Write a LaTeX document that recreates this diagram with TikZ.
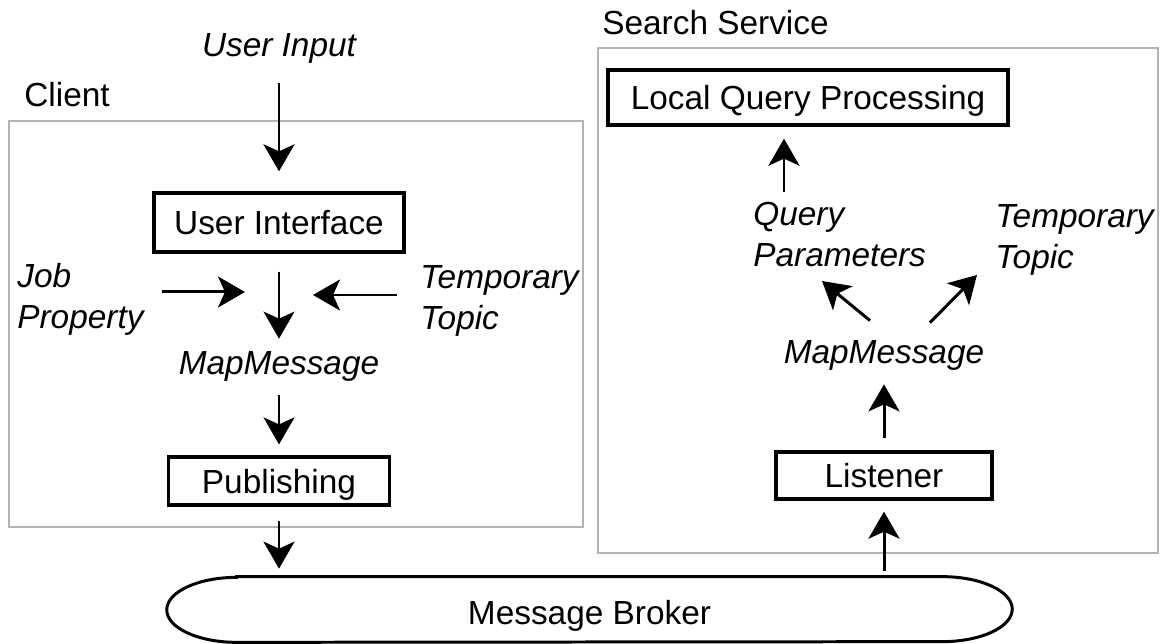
\documentclass[tikz,border=0pt]{standalone}
\usepackage{fontspec}
\setmainfont{Liberation Sans}
\usepackage{tikz}
\usetikzlibrary{arrows.meta,positioning}
\definecolor{groupgray}{rgb}{.7,.7,.7}
\def\skfont{\fontsize{19pt}{23.3pt}\selectfont}

\begin{document}
\begin{tikzpicture}[% styles for the whole picture, override case-by-case
		x=0.02cm, y=-0.02cm,	% one unit is one pixel of the sketch, y runs down
		every node/.style={
			font=\skfont,
			inner sep=0pt
		},
		every edge/.style={draw,line width=1.7pt},
		lbl/.style={text height=13.7pt, text depth=0pt},	% south = baseline
		note/.style={align=left, anchor=north west, font=\skfont\itshape},
		block/.style={rectangle, draw, line width=1.9pt, text height=13.7pt, text depth=0pt},
		group/.style={draw=groupgray, line width=1.6pt},
		arr/.style={-{Stealth[length=0.54cm,width=0.62cm,inset=0.14cm]}}
	]
	\useasboundingbox (0,0) rectangle (1164,644);

	% the two services
	\draw[group] (9,121) rectangle (583,527);
	\draw[group] (598,48) rectangle (1158,553);
	\node[lbl, anchor=base west](client) at (24,107) {Client};
	\node[lbl, anchor=base west](search) at (602,35) {Search Service};

	% client side
	\node[block, minimum width=5cm, minimum height=1.18cm](ui) at (279,222.5) {User Interface};
	\node[lbl, font=\skfont\itshape](input)[above=2.7cm of ui] {User Input};
	\node[lbl, font=\skfont\itshape](mapL)[below=1.92cm of ui] {MapMessage};
	\node[block, minimum width=4.42cm, minimum height=0.96cm](pub)[below=1.62cm of mapL] {Publishing};
	\node[note](job) at (17,263) {Job\\Property};
	\node[note](tempL) at (420,265) {Temporary\\Topic};
	\coordinate (jobin) at (245,292);
	\coordinate (tlin) at (313,295);

	% broker
	\node[minimum width=16.9cm, minimum height=1.3cm, text height=17.5pt, text depth=0pt](broker) at (589.5,609.5) {Message Broker};
	\draw[line width=1.7pt] ([xshift=1.4cm]broker.north west) -- ([xshift=-1.4cm]broker.north east)
		arc[start angle=90, end angle=-90, x radius=1.4cm, y radius=0.65cm]
		-- ([xshift=1.4cm]broker.south west)
		arc[start angle=270, end angle=90, x radius=1.4cm, y radius=0.65cm] -- cycle;

	% search service side
	\node[block, minimum width=8cm, minimum height=1.1cm](lqp) at (808,97.5) {Local Query Processing};
	\node[block, minimum width=4.32cm, minimum height=0.94cm](listener) at (884,475.5) {Listener};
	\node[lbl, font=\skfont\itshape](mapR)[above=1.72cm of listener] {MapMessage};
	\node[note](qp) at (753,202) {Query\\Parameters};
	\node[note](tempR) at (995,204) {Temporary\\Topic};
	\coordinate (qpup) at ([xshift=0.62cm,yshift=0.2cm]qp.north west);
	\coordinate (qpin) at (822,281);
	\coordinate (ttin) at (977,275);

	\path[arr]
	(input) edge [shorten <=0.54cm, shorten >=0.4cm] (ui)
	(ui) edge [shorten <=0.36cm, shorten >=0.22cm] (mapL)
	(job.east |- jobin) edge [shorten <=0.36cm] (jobin)
	(tempL.west |- tlin) edge [shorten <=0.46cm] (tlin)
	(mapL) edge [shorten <=0.42cm, shorten >=0.22cm] (pub)
	(pub) edge [shorten <=0.28cm, shorten >=0.16cm] (pub |- broker.north)
	(listener |- broker.north) edge [shorten <=0.12cm, shorten >=0.22cm] (listener)
	(listener) edge [shorten <=0.24cm, shorten >=0.4cm] (mapR)
	([shift={(-0.28cm,0.38cm)}]mapR.north) edge [] (qpin)
	([shift={(0.92cm,0.34cm)}]mapR.north) edge [] (ttin)
	(qpup) edge [shorten >=0.24cm] (qpup |- lqp.south)
	;
\end{tikzpicture}
\end{document}
